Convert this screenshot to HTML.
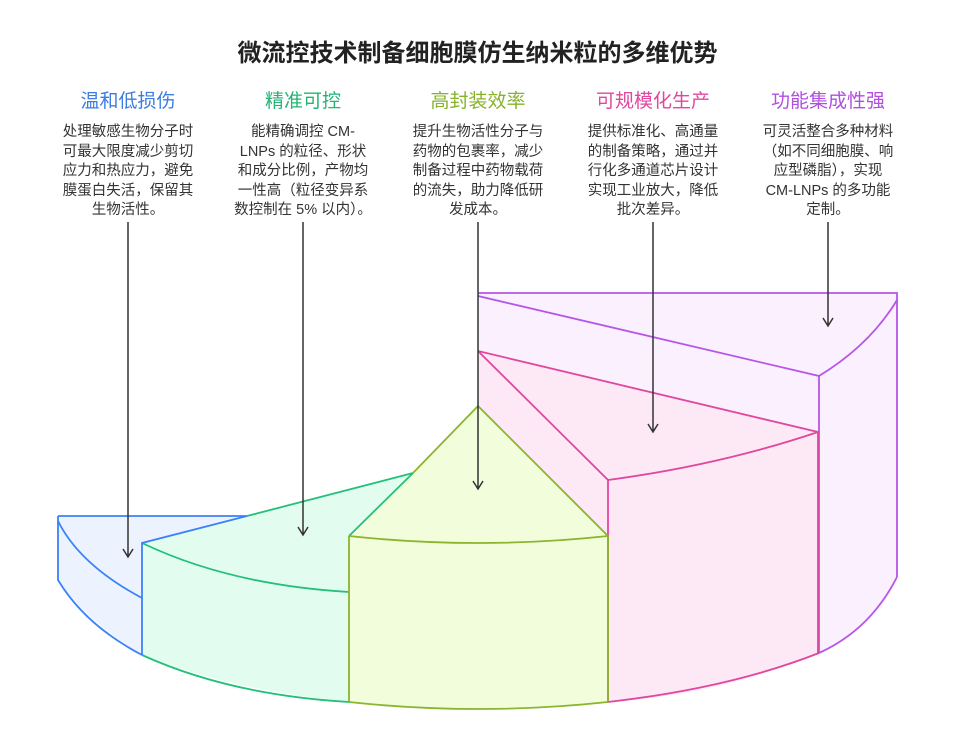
<!DOCTYPE html>
<html><head><meta charset="utf-8"><style>
body{margin:0;background:#fff;width:955px;height:747px;overflow:hidden;font-family:"Liberation Sans","Noto Sans CJK SC",sans-serif;}
.t{position:absolute;top:33px;left:0;width:955px;text-align:center;font-size:24px;font-weight:bold;color:#222;}
.h{position:absolute;top:86px;width:170px;text-align:center;font-size:19px;}
.b{position:absolute;top:123px;width:170px;text-align:center;font-size:14.5px;line-height:19.6px;color:#333;white-space:nowrap;}
</style></head><body>
<div class="t">微流控技术制备细胞膜仿生纳米粒的多维优势</div>
<div class="h" style="left:43px;color:#3b7de0">温和低损伤</div>
<div class="h" style="left:218px;color:#22b573">精准可控</div>
<div class="h" style="left:393px;color:#86b32a">高封装效率</div>
<div class="h" style="left:568px;color:#e0479e">可规模化生产</div>
<div class="h" style="left:743px;color:#b04fe0">功能集成性强</div>
<div class="b" style="left:43px">处理敏感生物分子时<br>可最大限度减少剪切<br>应力和热应力，避免<br>膜蛋白失活，保留其<br>生物活性。</div>
<div class="b" style="left:218px">能精确调控 CM-<br>LNPs 的粒径、形状<br>和成分比例，产物均<br>一性高（粒径变异系<br>数控制在 5% 以内）。</div>
<div class="b" style="left:393px">提升生物活性分子与<br>药物的包裹率，减少<br>制备过程中药物载荷<br>的流失，助力降低研<br>发成本。</div>
<div class="b" style="left:568px">提供标准化、高通量<br>的制备策略，通过并<br>行化多通道芯片设计<br>实现工业放大，降低<br>批次差异。</div>
<div class="b" style="left:743px">可灵活整合多种材料<br>（如不同细胞膜、响<br>应型磷脂），实现<br>CM-LNPs 的多功能<br>定制。</div>
<svg width="955" height="747" style="position:absolute;left:0;top:0" fill="none" stroke-width="1.8">
<path d="M478,293 H897 V577 Q880,625 819,653 L478,653 Z" fill="#fbf0fe" stroke="none"/>
<path d="M478,351 L818,432 V653 Q720,695 608,702 L478,702 Z" fill="#fde9f5" stroke="none"/>
<path d="M478,406 L608,536 V702 Q478,714 349,702 V536 Z" fill="#f2fddc" stroke="none"/>
<path d="M413,473 L349,536 V702 Q230,690 142,655 V543 L247,516 Z" fill="#e2fdf0" stroke="none"/>
<path d="M58,516 H247 L142,543 V655 Q85,620 58,580 Z" fill="#ecf3ff" stroke="none"/>
<g stroke="#b656e8"><path d="M478,293 H897 V577"/><path d="M897,300 Q870,345 819,376"/><path d="M478,296 L819,376 V653"/><path d="M897,577 Q870,630 819,653"/></g>
<g stroke="#e0479e"><path d="M478,351 L818,432 V653"/><path d="M478,351 L608,480 V702"/><path d="M608,480 Q720,465 818,432"/><path d="M608,702 Q730,688 819,653"/></g>
<g stroke="#22c07a"><path d="M413,473 L247,516"/><path d="M413,473 L349,536"/><path d="M142,543 Q230,585 349,592"/><path d="M142,655 Q230,695 349,702"/></g>
<g stroke="#8ab52d"><path d="M478,406 L413,473"/><path d="M478,406 L608,536 V702"/><path d="M349,536 Q478,550 608,536"/><path d="M349,536 V702"/><path d="M349,702 Q478,716 608,702"/></g>
<g stroke="#3b82f6"><path d="M58,516 H247 L142,543 V655"/><path d="M58,521 Q80,565 142,598"/><path d="M58,516 V580 Q85,625 142,655"/></g>
<g stroke="#333" stroke-width="1.5">
<path d="M128,222 V557 M123,549 L128,557 L133,549"/>
<path d="M303,222 V535 M298,527 L303,535 L308,527"/>
<path d="M478,222 V489 M473,481 L478,489 L483,481"/>
<path d="M653,222 V432 M648,424 L653,432 L658,424"/>
<path d="M828,222 V326 M823,318 L828,326 L833,318"/>
</g>
</svg>
</body></html>
